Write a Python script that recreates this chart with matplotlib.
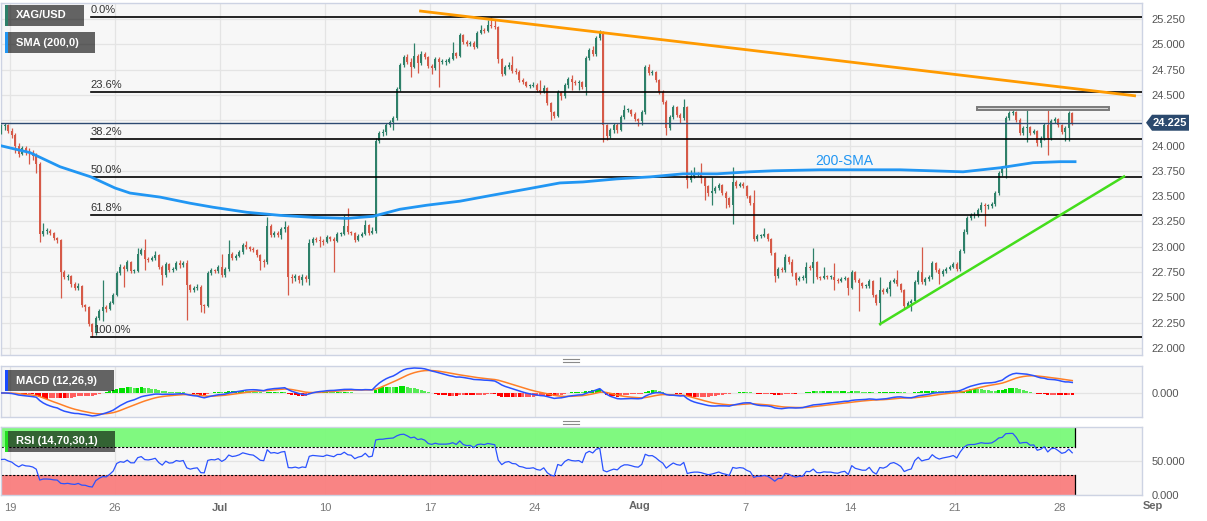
import numpy as np
import pandas as pd
import matplotlib
matplotlib.use("Agg")
import matplotlib.pyplot as plt
from matplotlib.patches import Rectangle, Polygon
from matplotlib.lines import Line2D

plt.rcParams['font.family'] = ['Liberation Sans', 'DejaVu Sans']

# ---------------- data (XAG/USD, 4H candles) ----------------
first_open = 24.13
closes = [
    24.19, 24.20, 24.14, 24.10, 24.00, 23.92, 23.98, 23.94, 23.93, 23.90,
    23.82, 23.13, 23.16, 23.16, 23.14, 23.09, 23.07, 22.75, 22.70, 22.71,
    22.63, 22.59, 22.61, 22.42, 22.40, 22.24, 22.16, 22.30, 22.36, 22.40,
    22.38, 22.44, 22.52, 22.74, 22.80, 22.78, 22.85, 22.76, 22.76, 22.93,
    22.97, 22.88, 22.87, 22.89, 22.92, 22.80, 22.72, 22.83, 22.77, 22.78,
    22.84, 22.82, 22.84, 22.62, 22.57, 22.59, 22.60, 22.42, 22.41, 22.74,
    22.77, 22.76, 22.80, 22.72, 22.78, 22.93, 22.89, 22.91, 22.95, 23.02,
    23.00, 22.98, 22.97, 22.92, 22.86, 22.85, 23.20, 23.12, 23.14, 23.12,
    23.17, 23.19, 22.70, 22.69, 22.71, 22.67, 22.70, 22.68, 23.04, 23.08,
    23.07, 23.06, 23.05, 23.10, 23.08, 23.06, 23.13, 23.13, 23.20, 23.15,
    23.14, 23.07, 23.11, 23.13, 23.21, 23.14, 23.16, 24.04, 24.12, 24.13,
    24.20, 24.23, 24.27, 24.56, 24.80, 24.87, 24.83, 24.78, 24.88, 24.82,
    24.90, 24.87, 24.79, 24.77, 24.85, 24.83, 24.83, 24.83, 24.85, 24.91,
    24.88, 25.09, 25.02, 25.00, 25.01, 24.97, 25.11, 25.14, 25.13, 25.19,
    25.18, 25.17, 24.85, 24.71, 24.78, 24.80, 24.74, 24.73, 24.65, 24.63,
    24.59, 24.59, 24.60, 24.55, 24.53, 24.57, 24.42, 24.33, 24.29, 24.53,
    24.49, 24.60, 24.66, 24.63, 24.62, 24.63, 24.58, 24.86, 24.94, 24.90,
    25.06, 25.11, 24.20, 24.09, 24.15, 24.20, 24.15, 24.28, 24.35, 24.35,
    24.31, 24.26, 24.24, 24.33, 24.78, 24.72, 24.73, 24.65, 24.53, 24.43,
    24.17, 24.28, 24.38, 24.30, 24.27, 24.38, 23.66, 23.70, 23.72, 23.72,
    23.68, 23.60, 23.53, 23.55, 23.58, 23.61, 23.53, 23.48, 23.41, 23.64,
    23.60, 23.62, 23.60, 23.50, 23.43, 23.08, 23.11, 23.11, 23.13, 23.08,
    22.94, 22.71, 22.78, 22.77, 22.90, 22.85, 22.74, 22.67, 22.69, 22.69,
    22.80, 22.79, 22.85, 22.70, 22.69, 22.71, 22.70, 22.70, 22.67, 22.66,
    22.68, 22.69, 22.59, 22.75, 22.67, 22.64, 22.61, 22.61, 22.66, 22.52,
    22.44, 22.57, 22.55, 22.58, 22.65, 22.67, 22.63, 22.57, 22.41, 22.44,
    22.46, 22.65, 22.75, 22.65, 22.68, 22.70, 22.84, 22.77, 22.73, 22.76,
    22.78, 22.80, 22.83, 22.78, 22.96, 23.15, 23.28, 23.31, 23.31, 23.36,
    23.41, 23.40, 23.40, 23.42, 23.53, 23.73, 23.78, 24.27, 24.32, 24.33,
    24.25, 24.12, 24.17, 24.18, 24.12, 24.14, 24.02, 24.07, 24.20, 24.07,
    24.24, 24.26, 24.20, 24.13, 24.17, 24.32, 24.225,
]
highs = [
    24.21, 24.22, 24.21, 24.17, 24.12, 24.02, 24.00, 24.00, 23.98, 23.96,
    23.93, 23.84, 23.23, 23.18, 23.17, 23.15, 23.10, 23.08, 22.77, 22.73,
    22.72, 22.65, 22.64, 22.62, 22.43, 22.41, 22.25, 22.32, 22.38, 22.67,
    22.42, 22.46, 22.54, 22.76, 22.83, 22.82, 22.87, 22.86, 22.78, 22.99,
    22.99, 23.08, 22.90, 22.91, 22.96, 22.93, 22.82, 22.85, 22.84, 22.80,
    22.86, 22.87, 22.86, 22.87, 22.63, 22.61, 22.63, 22.62, 22.43, 22.76,
    22.79, 22.78, 22.82, 22.93, 22.80, 23.07, 22.95, 22.93, 22.97, 23.04,
    23.06, 23.01, 23.00, 22.98, 22.93, 22.88, 23.29, 23.22, 23.16, 23.16,
    23.19, 23.25, 23.21, 22.73, 22.73, 22.72, 22.73, 22.72, 23.08, 23.10,
    23.10, 23.11, 23.08, 23.12, 23.11, 23.10, 23.15, 23.15, 23.31, 23.38,
    23.16, 23.15, 23.13, 23.15, 23.26, 23.22, 23.19, 24.07, 24.14, 24.16,
    24.22, 24.25, 24.29, 24.58, 24.82, 24.89, 24.90, 24.86, 25.01, 24.90,
    24.93, 24.92, 24.88, 24.81, 24.87, 24.87, 24.85, 24.85, 24.87, 25.02,
    24.92, 25.11, 25.10, 25.04, 25.03, 25.03, 25.13, 25.19, 25.16, 25.24,
    25.27, 25.25, 25.18, 24.86, 24.80, 24.83, 24.88, 24.77, 24.75, 24.67,
    24.64, 24.61, 24.63, 24.62, 24.65, 24.60, 24.58, 24.43, 24.34, 24.55,
    24.54, 24.62, 24.68, 24.70, 24.65, 24.65, 24.64, 24.88, 24.96, 24.98,
    25.08, 25.14, 25.13, 24.21, 24.17, 24.22, 24.22, 24.30, 24.40, 24.37,
    24.36, 24.33, 24.27, 24.35, 24.80, 24.81, 24.75, 24.74, 24.66, 24.55,
    24.45, 24.30, 24.40, 24.39, 24.32, 24.46, 24.39, 23.76, 23.79, 23.74,
    23.83, 23.69, 23.61, 23.69, 23.60, 23.63, 23.62, 23.55, 23.49, 23.79,
    23.66, 23.64, 23.64, 23.61, 23.51, 23.56, 23.13, 23.13, 23.18, 23.14,
    23.09, 22.95, 22.80, 22.80, 22.93, 22.91, 22.88, 22.75, 22.71, 22.72,
    22.85, 22.82, 22.99, 22.86, 22.71, 22.80, 22.72, 22.72, 22.84, 22.69,
    22.70, 22.71, 22.70, 22.77, 22.76, 22.69, 22.65, 22.63, 22.68, 22.67,
    22.53, 22.70, 22.59, 22.60, 22.67, 22.69, 22.77, 22.64, 22.58, 22.46,
    22.48, 22.67, 22.77, 23.00, 22.70, 22.72, 22.86, 22.85, 22.79, 22.78,
    22.80, 22.82, 22.85, 22.85, 22.98, 23.17, 23.30, 23.33, 23.34, 23.38,
    23.44, 23.43, 23.42, 23.44, 23.55, 23.75, 23.80, 24.29, 24.34, 24.36,
    24.34, 24.27, 24.19, 24.37, 24.19, 24.16, 24.15, 24.09, 24.22, 24.37,
    24.26, 24.28, 24.27, 24.21, 24.19, 24.34, 24.33,
]
lows = [
    24.11, 24.15, 24.12, 24.07, 23.93, 23.89, 23.91, 23.91, 23.82, 23.86,
    23.73, 23.05, 23.11, 23.13, 23.12, 23.07, 23.04, 22.49, 22.68, 22.67,
    22.60, 22.57, 22.57, 22.40, 22.36, 22.22, 22.11, 22.13, 22.28, 22.27,
    22.35, 22.37, 22.43, 22.51, 22.72, 22.60, 22.76, 22.74, 22.74, 22.75,
    22.92, 22.77, 22.85, 22.86, 22.87, 22.78, 22.62, 22.70, 22.75, 22.75,
    22.77, 22.79, 22.80, 22.28, 22.55, 22.55, 22.57, 22.35, 22.34, 22.40,
    22.72, 22.74, 22.74, 22.70, 22.70, 22.76, 22.87, 22.87, 22.90, 22.93,
    22.98, 22.96, 22.95, 22.90, 22.77, 22.80, 22.83, 23.10, 23.10, 23.10,
    23.08, 23.15, 22.52, 22.64, 22.66, 22.64, 22.62, 22.65, 22.62, 23.02,
    23.05, 23.00, 23.02, 23.04, 23.06, 22.75, 23.05, 23.11, 23.12, 23.13,
    23.12, 23.05, 23.06, 23.10, 23.12, 23.12, 23.13, 23.14, 24.02, 24.09,
    24.10, 24.18, 24.15, 24.25, 24.54, 24.78, 24.81, 24.68, 24.77, 24.72,
    24.80, 24.85, 24.77, 24.71, 24.75, 24.58, 24.81, 24.80, 24.82, 24.84,
    24.86, 24.87, 25.00, 24.98, 24.98, 24.95, 24.96, 25.10, 25.11, 25.12,
    25.16, 25.15, 24.82, 24.69, 24.70, 24.76, 24.72, 24.71, 24.63, 24.61,
    24.58, 24.57, 24.58, 24.53, 24.51, 24.52, 24.40, 24.25, 24.27, 24.28,
    24.45, 24.47, 24.57, 24.55, 24.60, 24.55, 24.56, 24.50, 24.84, 24.88,
    24.88, 25.04, 24.03, 24.05, 24.07, 24.12, 24.12, 24.14, 24.26, 24.33,
    24.29, 24.24, 24.19, 24.20, 24.31, 24.70, 24.70, 24.63, 24.51, 24.41,
    24.10, 24.15, 24.26, 24.28, 24.22, 24.25, 23.58, 23.64, 23.68, 23.70,
    23.63, 23.46, 23.50, 23.41, 23.53, 23.56, 23.51, 23.38, 23.39, 23.22,
    23.58, 23.59, 23.58, 23.48, 23.41, 23.06, 23.06, 23.09, 23.10, 23.06,
    22.92, 22.65, 22.69, 22.75, 22.75, 22.83, 22.71, 22.62, 22.66, 22.67,
    22.64, 22.77, 22.64, 22.68, 22.67, 22.68, 22.68, 22.68, 22.57, 22.64,
    22.65, 22.67, 22.52, 22.58, 22.65, 22.36, 22.59, 22.59, 22.59, 22.50,
    22.42, 22.23, 22.53, 22.54, 22.51, 22.64, 22.61, 22.55, 22.39, 22.40,
    22.36, 22.45, 22.63, 22.63, 22.62, 22.66, 22.68, 22.75, 22.63, 22.71,
    22.74, 22.77, 22.79, 22.76, 22.76, 22.94, 23.13, 23.26, 23.28, 23.29,
    23.34, 23.20, 23.37, 23.38, 23.40, 23.51, 23.70, 23.68, 24.25, 24.30,
    24.23, 24.10, 24.10, 24.03, 24.10, 24.11, 24.00, 23.99, 24.05, 23.91,
    24.05, 24.22, 24.18, 24.11, 24.04, 24.04, 24.20,
]

# 200-period SMA (candle index, value)
sma_idx = [-0.4, 8.2, 16.8, 25.6, 32.5, 36.8, 45.4, 53.9, 60.5, 70.2, 79.6, 89.1,
           98.8, 106.2, 113.9, 121.6, 131.1, 140.5, 150.2, 159.6, 166.2, 175.9,
           185.4, 194.8, 204.5, 213.9, 220.5, 233.9, 256.8, 274.8, 285.4, 294.8,
           302.5, 306.8]
sma_vals = [24.00, 23.93, 23.79, 23.69, 23.58, 23.53, 23.49, 23.43, 23.39, 23.34,
            23.31, 23.29, 23.28, 23.30, 23.37, 23.41, 23.45, 23.51, 23.57, 23.63,
            23.64, 23.67, 23.69, 23.72, 23.72, 23.74, 23.75, 23.76, 23.76, 23.74,
            23.78, 23.83, 23.84, 23.84]

# drawn objects (anchor points: candle index, price)
resist_line = ([119.4, 324.2], [25.33, 24.49])
support_line = ([250.8, 321.1], [22.23, 23.70])
resist_box = (278.8, 316.5, 24.35, 24.38)

fib_ratios = [0.0, 0.236, 0.382, 0.5, 0.618, 1.0]
fib_labels = ["0.0%", "23.6%", "38.2%", "50.0%", "61.8%", "100.0%"]

# x-axis: trading days after Mon 19 Jun (6 candles per day)
tick_days = [0, 5, 10, 15, 20, 25, 31, 35, 40, 45, 50]
tick_labels = ["19", "26", "Jul", "10", "17", "24", "", "7", "14", "21", "28"]
month_marks = [(30, "Aug"), (54.4, "Sep")]  # labels drawn separately (day, text)
candles_per_day = 6
first_day_offset = 2.5  # candles of Fri 16 Jun shown before 19 Jun

price_ticks = [22.0 + 0.25 * k for k in range(14)]
rsi_seed_avg = 0.05  # assumed average move before the first visible candle

# ---------------- styling ----------------
W, H = 1207, 521
UP, DN = "#2e8069", "#d65a48"
BG = "#f7f7f7"
GRID = "#e4e4e4"
SPINE = "#cdd3e3"

c = np.array(closes)
hi = np.array(highs)
lo = np.array(lows)
n = len(c)
x = np.arange(n)
o = np.r_[first_open, c[:-1]]
hi = np.maximum(hi, np.maximum(o, c))
lo = np.minimum(lo, np.minimum(o, c))

fig = plt.figure(figsize=(W / 100, H / 100), dpi=100)
fig.patch.set_facecolor("white")


def rect(top, bottom, left=0.5, right=1142):
    return [left / W, 1 - bottom / H, (right - left) / W, (bottom - top) / H]


ax = fig.add_axes(rect(3, 355))
axm = fig.add_axes(rect(366, 417), sharex=ax)
axr = fig.add_axes(rect(427, 495), sharex=ax)

xmin = (0.5 - 1.25) / 3.5
xmax = (1142 - 1.25) / 3.5
tick_pos = [first_day_offset + candles_per_day * d for d in tick_days]

for a in (ax, axm, axr):
    a.set_facecolor(BG)
    for s in a.spines.values():
        s.set_color(SPINE)
        s.set_linewidth(1)
    a.set_xlim(xmin, xmax)
    a.set_xticks(tick_pos)
    a.grid(True, color=GRID, lw=0.9, zorder=0)
    a.set_axisbelow(True)
    a.yaxis.tick_right()
    a.tick_params(axis="y", length=0, pad=7, labelsize=8, labelcolor="#555555")
    a.tick_params(axis="x", length=0)

# ---- main price panel ----
ax.set_ylim(25.25 - 336 / 101.2, 25.25 + 16 / 101.2)
ax.set_yticks(price_ticks)
last = c[-1]
ax.set_yticklabels([("" if abs(v - last) < 0.1 else f"{v:.3f}") for v in price_ticks])
ax.tick_params(axis="x", labelbottom=False)

colors = np.where(c >= o, UP, DN)
ax.vlines(x, lo, hi, colors=colors, lw=0.9, zorder=3)
ax.bar(x, np.maximum(np.abs(c - o), 0.008), bottom=np.minimum(o, c), width=0.66,
       color=colors, lw=0, zorder=4)

# fibonacci retracement from the swing low to the swing high
fhi, flo = hi.max(), lo.min()
fstart = int(np.argmin(lo)) - 0.4
for r, lab in zip(fib_ratios, fib_labels):
    lvl = fhi - r * (fhi - flo)
    ax.plot([fstart, xmax], [lvl, lvl], color="black", lw=1.2, zorder=5)
    ax.text(fstart + (0.5 if r == 1.0 else 0), lvl + 0.02, lab, fontsize=8,
            color="#333333", ha="left", va="bottom", zorder=6)

# last price line
ax.axhline(last, color="#2d4a72", lw=1.0, zorder=5)

# 200 SMA
ax.plot(sma_idx, sma_vals, color="#2196f3", lw=2.0, zorder=6)
ax.text(232.5, 23.85, "200-SMA", color="#2196f3", fontsize=10, ha="left",
        va="center", zorder=7)

# trend lines
ax.plot(*resist_line, color="#ff9a00", lw=2.0, zorder=6, solid_capstyle="butt")
ax.plot(*support_line, color="#44dd1c", lw=1.8, zorder=6, solid_capstyle="butt")
bx0, bx1, by0, by1 = resist_box
ax.add_patch(Rectangle((bx0, by0), bx1 - bx0, by1 - by0, fc="#d8d8d8",
                       ec="#7a7a7a", lw=1.4, zorder=6))

# ---- MACD panel ----
s = pd.Series(c)
ema12 = s.ewm(span=12, adjust=False).mean()
ema26 = s.ewm(span=26, adjust=False).mean()
macd = (ema12 - ema26).values
signal = pd.Series(macd).ewm(span=9, adjust=False).mean().values
hist = macd - signal
scale = 25.0 / np.max(np.abs(macd))
axm.set_ylim(-24 / scale, 27 / scale)
axm.set_yticks([0])
axm.set_yticklabels(["0.000"])
axm.tick_params(axis="x", labelbottom=False)
prev = np.r_[0, hist[:-1]]
hcol = np.where(hist >= 0,
                np.where(hist >= prev, "#00e000", "#55ea55"),
                np.where(hist <= prev, "#ff0000", "#ff5c5c"))
axm.bar(x, hist, width=0.75, color=hcol, lw=0, zorder=3)
axm.plot(x, signal, color="#ff7f27", lw=1.1, zorder=4)
axm.plot(x, macd, color="#2a52ff", lw=1.1, zorder=5)

# ---- RSI panel (Wilder smoothing, seeded with a neutral average move) ----
d = np.diff(np.r_[first_open, c])
ag = np.empty(n)
al = np.empty(n)
g_prev, l_prev = rsi_seed_avg, rsi_seed_avg
for i in range(n):
    g_prev = (g_prev * 13 + max(d[i], 0)) / 14
    l_prev = (l_prev * 13 + max(-d[i], 0)) / 14
    ag[i], al[i] = g_prev, l_prev
rsi = 100 - 100 / (1 + ag / al)
axr.set_ylim(0, 100)
axr.set_yticks([0, 50])
axr.set_yticklabels(["0.000", "50.000"])
band_end = n - 1 + 0.8
axr.add_patch(Rectangle((xmin, 70), band_end - xmin, 30, fc="#7afa7a", ec="none",
                        alpha=0.95, zorder=1))
axr.add_patch(Rectangle((xmin, 0), band_end - xmin, 30, fc="#fa7e7e", ec="none",
                        alpha=0.95, zorder=1))
for lvl in (70, 30):
    axr.plot([xmin, band_end], [lvl, lvl], color="black", lw=0.8, ls=(0, (2, 1.5)),
             zorder=2)
axr.plot([band_end, band_end], [70, 100], color="black", lw=0.9, zorder=2)
axr.plot([band_end, band_end], [0, 30], color="black", lw=0.9, zorder=2)
axr.plot(x, rsi, color="#2a52ff", lw=0.9, zorder=4)

axr.set_xticklabels(tick_labels)
axr.tick_params(axis="x", labelsize=8, labelcolor="#777777", pad=6)
for t in axr.get_xticklabels():
    if t.get_text() == "Jul":
        t.set_fontweight("bold")
        t.set_color("#666666")
for day, lab in month_marks:
    axr.text(first_day_offset + candles_per_day * day, -0.09, lab,
             transform=axr.get_xaxis_transform(), fontsize=8, fontweight="bold",
             color="#666666", ha="center", va="top", clip_on=False)


# ---------------- overlay labels (pixel coordinates) ----------------
def px_rect(x0, y0, w, h, **kw):
    fig.add_artist(Rectangle((x0 / W, 1 - (y0 + h) / H), w / W, h / H,
                             transform=fig.transFigure, **kw))


def legend_box(x0, y0, w, h, text, accent):
    px_rect(x0, y0, w, h, fc="black", alpha=0.6, ec="none", zorder=20)
    px_rect(x0, y0, 2.5, h, fc=accent, ec="none", zorder=21)
    fig.text((x0 + 11) / W, 1 - (y0 + h / 2) / H, text, color="white",
             fontsize=8, fontweight="bold", ha="left", va="center", zorder=22)


legend_box(5, 5, 79, 21, "XAG/USD", "#2e8069")
legend_box(5, 32, 90, 21, "SMA (200,0)", "#2196f3")
legend_box(5, 370, 109, 21, "MACD (12,26,9)", "#1a4bff")
legend_box(5, 431, 110, 21, "RSI (14,70,30,1)", "#22dd22")

# last price tag
fig.canvas.draw()
ty = ax.transData.transform((0, last))[1]
typ = H - ty
pts = [(1146, typ), (1152, typ - 8), (1189, typ - 8), (1189, typ + 8), (1152, typ + 8)]
fig.add_artist(Polygon([(px / W, 1 - py / H) for px, py in pts], closed=True,
                       transform=fig.transFigure, fc="#2c4a6e", ec="none", zorder=20))
fig.text(1170 / W, 1 - typ / H, f"{last:.3f}", color="white", fontsize=8,
         fontweight="bold", ha="center", va="center", zorder=21)

# pane separators
for yy in (360, 422):
    for dy in (-1.5, 1.5):
        fig.add_artist(Line2D([563 / W, 579 / W], [1 - (yy + dy) / H] * 2,
                              transform=fig.transFigure, color="#8a8a8a", lw=0.8))

fig.savefig("out.png", dpi=100, facecolor="white")
